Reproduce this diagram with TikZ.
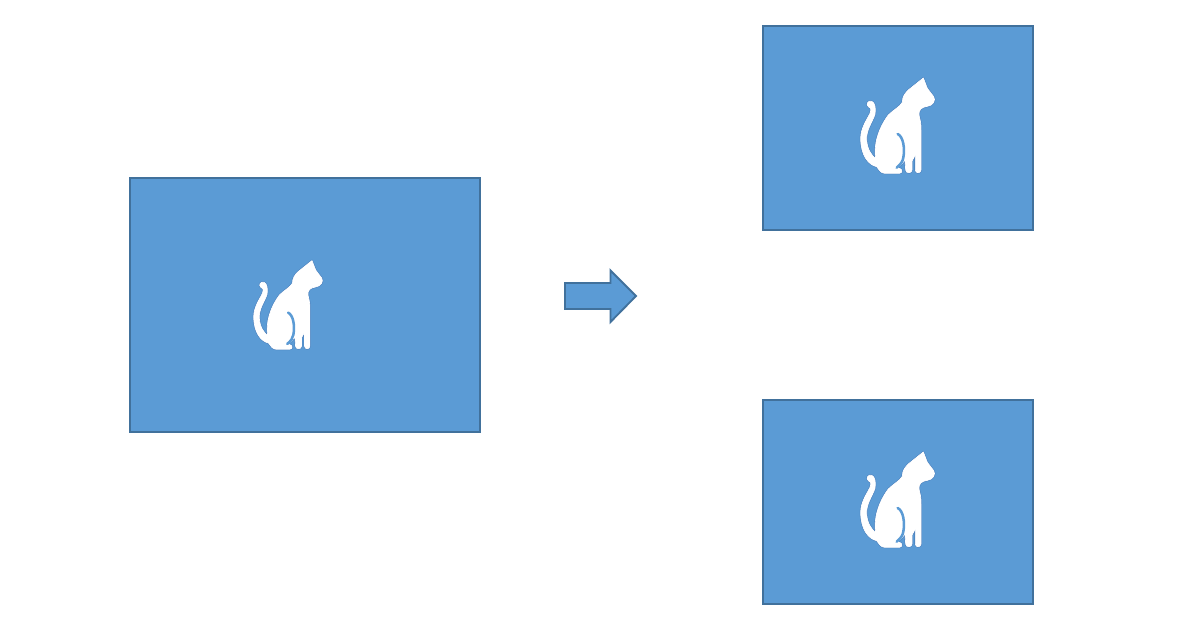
\documentclass[tikz,border=0pt]{standalone}
\definecolor{panelfill}{HTML}{5B9BD5}
\definecolor{panelline}{HTML}{41719C}
\definecolor{catline}{HTML}{4A7EBB}
\tikzset{
  panel/.style={draw=panelline,fill=panelfill,line width=1.4pt,inner sep=0pt,outer sep=0pt,anchor=north west},
  catpic/.pic={
    \def\catshape{
      (250,39) -- (262,70) -- (281,95)
      .. controls (288,105) and (280,122) .. (262,124)
      .. controls (245,126) and (235,135) .. (237,150)
      .. controls (240,165) and (244,175) .. (243,195)
      -- (243,315) .. controls (243,326) and (226,326) .. (226,315)
      -- (226,270) -- (216,288) -- (216,315)
      .. controls (216,326) and (197,326) .. (197,315)
      -- (195,285) -- (186,296) -- (172,309)
      -- (178,310) .. controls (188,312) and (188,325) .. (178,325)
      -- (135,325) .. controls (122,325) and (118,315) .. (110,305)
      .. controls (85,300) and (62,270) .. (62,220)
      .. controls (62,190) and (80,165) .. (90,145)
      .. controls (95,130) and (92,128) .. (85,125)
      .. controls (76,118) and (85,105) .. (95,109)
      .. controls (105,112) and (108,130) .. (105,148)
      .. controls (98,170) and (78,195) .. (80,225)
      .. controls (82,255) and (95,270) .. (107,282)
      .. controls (100,240) and (115,190) .. (145,150)
      .. controls (160,135) and (180,125) .. (187,112)
      .. controls (187,95) and (195,85) .. (205,75)
      -- cycle}
    \path[draw=catline,line width=1.3pt,line join=round] \catshape;
    \path[fill=white,draw=white,line width=0.5pt,line join=round] \catshape;
    \path[draw=panelfill,line width=1.9pt,line cap=round]
      (173,207) .. controls (190,215) and (195,250) .. (190,278) .. controls (188,290) and (182,298) .. (170,308);
  }
}
\begin{document}
\begin{tikzpicture}[x=0.75pt,y=-0.75pt]
\useasboundingbox[fill=white] (0,0) rectangle (1193,623);
\node[panel,minimum width=262.5pt,minimum height=190.5pt] (source) at (130,178) {};
\node[panel,minimum width=202.5pt,minimum height=153pt] (copya) at (763,26) {};
\node[panel,minimum width=202.5pt,minimum height=153pt] (copyb) at (763,400) {};
\path[draw=panelline,fill=panelfill,line width=1.4pt,line join=miter]
  (565,283) -- (610.5,283) -- (610.5,270.5) -- (636,296) -- (610.5,322) -- (610.5,309) -- (565,309) -- cycle;
\pic[shift={(234.5,248.5)},scale=0.31] {catpic};
\pic[shift={(840,65)},scale=0.3333] {catpic};
\pic[shift={(840,439)},scale=0.3333] {catpic};
\end{tikzpicture}
\end{document}
